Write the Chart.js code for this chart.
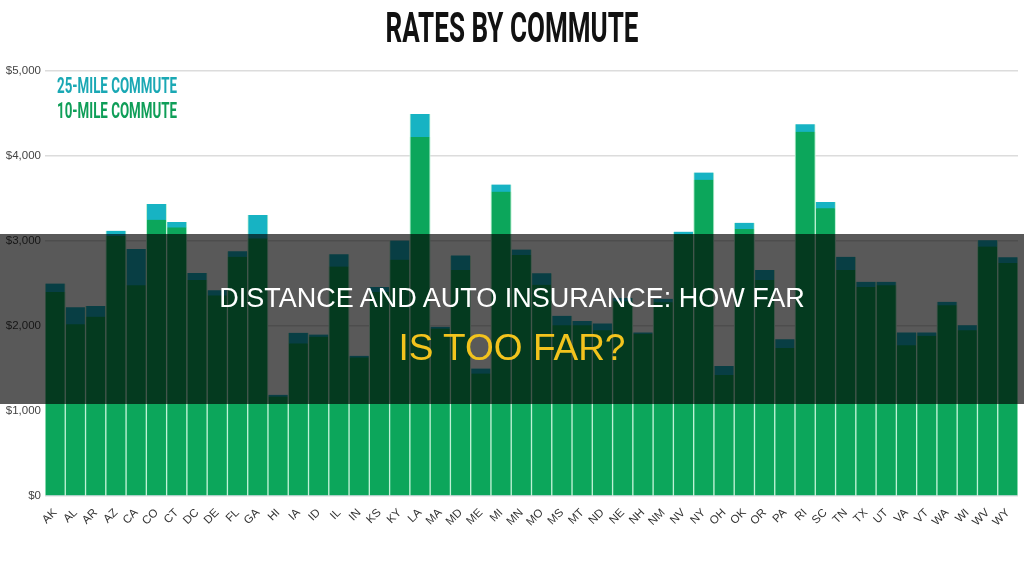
<!DOCTYPE html>
<html>
<head>
<meta charset="utf-8">
<script src="https://cdn.jsdelivr.net/npm/chart.js@4/dist/chart.umd.min.js"></script>
<style>
html,body{margin:0;padding:0;background:#fff;}
#wrap{position:relative;width:1024px;height:568px;overflow:hidden;background:#fff;}
#c{position:absolute;left:0;top:0;}
.row{position:absolute;left:0;width:1024px;text-align:center;white-space:nowrap;line-height:1;}
.sq{display:inline-block;white-space:nowrap;line-height:1;}
#title{top:7px;}
#title .sq{font-family:Roboto,"Liberation Sans",sans-serif;font-weight:700;font-size:42px;color:#111;transform-origin:50% 50%;}
#legendBox{position:absolute;left:50px;top:72px;width:140px;height:50px;background:rgba(255,255,255,0.75);}
.leg{position:absolute;left:57px;font-family:Roboto,"Liberation Sans",sans-serif;font-weight:700;font-size:22.5px;line-height:1;white-space:nowrap;display:inline-block;transform-origin:0 50%;}
#overlay{position:absolute;left:0;top:234px;width:1024px;height:170px;background:rgba(0,0,0,0.65);}
#h1{top:285px;font-family:"Liberation Sans",Arial,sans-serif;font-size:27px;color:#ffffff;}
#h2{top:329px;font-family:"Liberation Sans",Arial,sans-serif;font-size:37px;color:#f3c31d;}
</style>
</head>
<body>
<div id="wrap">
  <canvas id="c" width="1024" height="568"></canvas>
  <div class="row" id="title"><span class="sq" data-w="253">RATES BY COMMUTE</span></div>
  <div id="legendBox"></div>
  <span class="leg" id="leg0" data-w="120"></span>
  <span class="leg" id="leg1" data-w="120"></span>
  <div id="overlay"></div>
  <div class="row" id="h1">DISTANCE AND AUTO INSURANCE: HOW FAR</div>
  <div class="row" id="h2">IS TOO FAR?</div>
</div>
<script>
const states = ['AK','AL','AR','AZ','CA','CO','CT','DC','DE','FL','GA','HI','IA','ID','IL','IN','KS','KY','LA','MA','MD','ME','MI','MN','MO','MS','MT','ND','NE','NH','NM','NV','NY','OH','OK','OR','PA','RI','SC','TN','TX','UT','VA','VT','WA','WI','WV','WY'];
const commute25 = [2500,2220,2235,3120,2905,3435,3225,2625,2420,2880,
                   3305,1190,1920,1900,2845,1650,2460,3005,4495,1990,
                   2830,1500,3665,2900,2620,2120,2060,2030,2330,1925,
                   2320,3110,3805,1530,3215,2660,1845,4375,3460,2815,
                   2520,2520,1925,1925,2285,2010,3010,2810];
const commute10 = [2400,2020,2110,3060,2480,3250,3160,2540,2360,2815,
                   3030,1170,1795,1875,2700,1630,2400,2780,4225,1970,
                   2660,1440,3580,2835,2485,2010,2010,1950,2290,1910,
                   2280,3080,3720,1425,3140,2540,1740,4285,3385,2660,
                   2460,2480,1775,1885,2245,1950,2935,2740];
const seriesLabels = ['25-MILE COMMUTE','10-MILE COMMUTE'];
const seriesColors = ['#17b3c3','#0ca65b'];
const legendColors = ['#1aa8b4','#0f9e58'];
const yTicks = [0,1000,2000,3000,4000,5000];

// legend text from series labels
const leg0 = document.getElementById('leg0');
const leg1 = document.getElementById('leg1');
leg0.textContent = seriesLabels[0]; leg0.style.color = legendColors[0]; leg0.style.top = '74px';
leg1.textContent = seriesLabels[1]; leg1.style.color = legendColors[1]; leg1.style.top = '99px';

document.querySelectorAll('[data-w]').forEach(el => {
  const w = el.getBoundingClientRect().width;
  const target = parseFloat(el.getAttribute('data-w'));
  if (w > 0) el.style.transform = 'scaleX(' + (target / w) + ')';
});

const tickFont = {family: '"Liberation Sans", Arial, sans-serif', size: 11.5};

new Chart(document.getElementById('c'), {
  type: 'bar',
  data: {
    labels: states,
    datasets: [
      {label: seriesLabels[1], data: commute10, backgroundColor: seriesColors[1], order: 0},
      {label: seriesLabels[0], data: commute25, backgroundColor: seriesColors[0], order: 1}
    ]
  },
  options: {
    responsive: false,
    animation: false,
    devicePixelRatio: 1,
    layout: {padding: {top: 71, left: 0, right: 6, bottom: 0}},
    datasets: {
      bar: {
        grouped: false,
        barPercentage: 1,
        categoryPercentage: 1,
        borderWidth: {left: 1, right: 1, top: 0, bottom: 0},
        borderColor: '#bff2d6',
        borderSkipped: false
      }
    },
    plugins: {legend: {display: false}, title: {display: false}, tooltip: {enabled: false}},
    scales: {
      x: {
        grid: {display: false},
        border: {display: false},
        ticks: {color: '#333', font: tickFont, minRotation: 45, maxRotation: 45, autoSkip: false, padding: 2},
        afterFit: s => { s.height = 72; }
      },
      y: {
        min: 0, max: 5000,
        afterBuildTicks: s => { s.ticks = yTicks.map(v => ({value: v})); },
        grid: {color: '#dcdcdc', lineWidth: 1.5, drawTicks: false},
        border: {display: false},
        ticks: {padding: 4, color: '#444', font: tickFont, callback: v => '$' + Number(v).toLocaleString('en-US')},
        afterFit: s => { s.width = 45; }
      }
    }
  }
});
</script>
</body>
</html>
